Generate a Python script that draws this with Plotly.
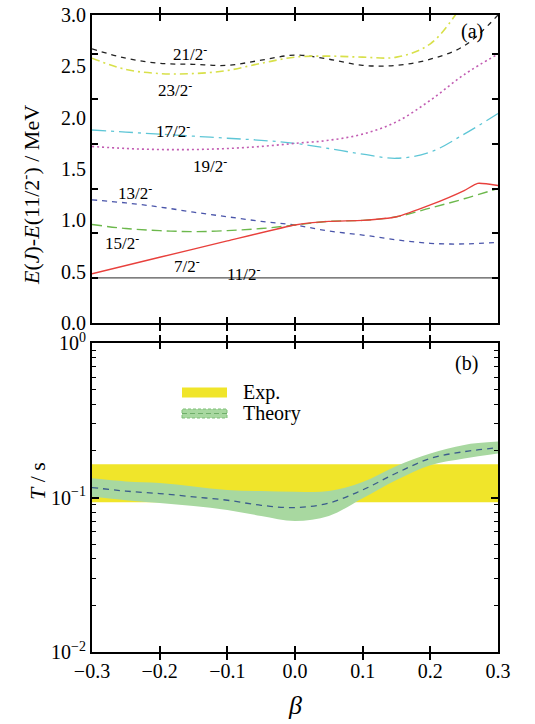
import plotly.graph_objects as go

# ---------------- data ----------------
beta = [-0.30, -0.25, -0.20, -0.15, -0.10, -0.05, 0.00, 0.05, 0.10, 0.15, 0.20, 0.25, 0.30]

e_21_2 = [2.67, 2.58, 2.53, 2.52, 2.51, 2.56, 2.61, 2.57, 2.51, 2.51, 2.57, 2.70, 3.00]
e_23_2 = [2.58, 2.47, 2.43, 2.43, 2.46, 2.53, 2.59, 2.60, 2.59, 2.59, 2.72, 3.12, 3.60]
e_17_2 = [1.88, 1.86, 1.84, 1.82, 1.80, 1.78, 1.75, 1.70, 1.645, 1.605, 1.665, 1.84, 2.04]
e_19_2 = [1.72, 1.70, 1.69, 1.69, 1.70, 1.72, 1.75, 1.78, 1.84, 1.96, 2.17, 2.42, 2.62]
e_13_2 = [1.20, 1.17, 1.13, 1.08, 1.035, 0.99, 0.954, 0.896, 0.857, 0.81, 0.776, 0.77, 0.786]
e_15_2 = [0.96, 0.92, 0.90, 0.89, 0.90, 0.92, 0.955, 0.99, 1.00, 1.035, 1.12, 1.21, 1.31]
beta_7_2 = [-0.30, -0.20, -0.10, 0.00, 0.05, 0.10, 0.15, 0.20, 0.25, 0.27, 0.30]
e_7_2 = [0.48, 0.64, 0.80, 0.955, 0.99, 1.00, 1.035, 1.15, 1.29, 1.36, 1.34]
e_11_2 = [0.44] * len(beta)

level_names = ["21/2", "23/2", "17/2", "19/2", "13/2", "15/2", "7/2", "11/2"]
label_beta = [-0.155, -0.177, -0.18, -0.126, -0.236, -0.256, -0.16, -0.075]
label_e = [2.63, 2.28, 1.88, 1.54, 1.275, 0.79, 0.565, 0.49]

t_center = [0.116, 0.110, 0.106, 0.101, 0.096, 0.089, 0.086, 0.092, 0.112, 0.144, 0.179, 0.198, 0.210]
t_upper = [0.133, 0.127, 0.124, 0.118, 0.112, 0.110, 0.109, 0.110, 0.126, 0.160, 0.193, 0.219, 0.230]
t_lower = [0.101, 0.096, 0.092, 0.088, 0.083, 0.076, 0.0705, 0.076, 0.099, 0.130, 0.162, 0.179, 0.193]
exp_low, exp_high = 0.093, 0.164

x_ticks = [-0.3, -0.2, -0.1, 0.0, 0.1, 0.2, 0.3]
e_ticks = [0.0, 0.5, 1.0, 1.5, 2.0, 2.5, 3.0]
e_ticktext = ["0.0", "0.5", "1.0", "1.5", "2.0", "2.5", "3.0"]
e_side_ticks = [0.436, 0.872, 1.308, 1.744, 2.18, 2.616]
t_ticks = [0.01, 0.1, 1.0]
t_ticktext = ["10<sup>\u22122</sup>", "10<sup>\u22121</sup>", "10<sup>0</sup>"]
t_minor = [m * d for d in (0.01, 0.1) for m in range(2, 10)]

# ---------------- geometry (page px; body margin removed by post_script) ----------------
W, H = 535, 724
L, R, T, B = 92, 535 - 498, 15, 724 - 652
PW, PH = W - L - R, H - T - B

def px(xp):  # page x -> paper
    return (xp - L) / PW

def py(yp):  # page y -> paper
    return (H - B - yp) / PH

FONT = "Liberation Serif"
fig = go.Figure()

def level(x, y, color, dash, width=1.3, smooth=1.0):
    fig.add_trace(go.Scatter(x=x, y=y, mode="lines", xaxis="x", yaxis="y",
                             line=dict(color=color, dash=dash, width=width,
                                       shape="spline", smoothing=smooth),
                             showlegend=False, hoverinfo="skip"))

level(beta, e_11_2, "#555555", "solid", 1.4)
level(beta, e_21_2, "#222222", "5px,5px")
level(beta, e_23_2, "#d8e04a", "8px,4px,2px,4px", 1.6)
level(beta, e_17_2, "#5ec6d6", "14px,5px,3px,5px")
level(beta, e_19_2, "#c25cb2", "2px,3px", 1.6)
level(beta, e_13_2, "#4a55aa", "5px,5px")
level(beta, e_15_2, "#6cb84c", "10px,5px", 1.4)
level(beta_7_2, e_7_2, "#e8403c", "solid", 1.4, 0.5)

# bottom panel: exp band
fig.add_trace(go.Scatter(x=[beta[0], beta[-1]], y=[exp_low, exp_low], mode="lines",
                         xaxis="x2", yaxis="y2", line=dict(width=0, color="#f0e52a"),
                         showlegend=False, hoverinfo="skip"))
fig.add_trace(go.Scatter(x=[beta[0], beta[-1]], y=[exp_high, exp_high], mode="lines",
                         xaxis="x2", yaxis="y2", line=dict(width=0, color="#f0e52a"),
                         fill="tonexty", fillcolor="#f0e52a",
                         showlegend=False, hoverinfo="skip"))
# theory band
fig.add_trace(go.Scatter(x=beta, y=t_lower, mode="lines", xaxis="x2", yaxis="y2",
                         line=dict(width=0, color="#a8d8a0", shape="spline"),
                         showlegend=False, hoverinfo="skip"))
fig.add_trace(go.Scatter(x=beta, y=t_upper, mode="lines", xaxis="x2", yaxis="y2",
                         line=dict(width=0, color="#a8d8a0", shape="spline"),
                         fill="tonexty", fillcolor="#a8d8a0",
                         showlegend=False, hoverinfo="skip"))
fig.add_trace(go.Scatter(x=beta, y=t_center, mode="lines", xaxis="x2", yaxis="y2",
                         line=dict(width=1.3, color="#3b5c8c", dash="6px,5px", shape="spline"),
                         showlegend=False, hoverinfo="skip"))

axis_common = dict(showline=True, linecolor="black", linewidth=2, mirror="allticks",
                   ticks="inside", ticklen=6, tickwidth=1.5, tickcolor="black",
                   showgrid=False, zeroline=False, automargin=False,
                   ticklabeloverflow="allow",
                   tickfont=dict(family=FONT, size=20, color="black"))

top_dom = [(652 - 323) / (652 - 15), 1.0]
bot_dom = [0.0, (652 - 343) / (652 - 15)]
E_RANGE = [0, 3.0005]

fig.update_layout(
    width=W, height=H,
    margin=dict(l=L, r=R, t=T, b=B, autoexpand=False),
    paper_bgcolor="white", plot_bgcolor="white",
    showlegend=False,
    xaxis=dict(axis_common, domain=[0, 1], anchor="y", range=[-0.3, 0.3],
               tickvals=x_ticks, showticklabels=False),
    yaxis=dict(axis_common, domain=top_dom, anchor="x", range=E_RANGE,
               tickvals=e_ticks, ticktext=e_ticktext, ticks=""),
    yaxis3=dict(axis_common, domain=top_dom, anchor="x", overlaying="y", side="left",
                range=E_RANGE, tickvals=e_side_ticks, showticklabels=False,
                mirror="ticks"),
    xaxis2=dict(axis_common, domain=[0, 1], anchor="y2", range=[-0.3, 0.3],
                tickvals=x_ticks, tickformat=".1f"),
    yaxis2=dict(axis_common, domain=bot_dom, anchor="x2", type="log", range=[-2, 0],
                tickvals=t_ticks, ticktext=t_ticktext, ticklen=7),
    yaxis4=dict(axis_common, domain=bot_dom, anchor="x2", overlaying="y2", side="left",
                type="log", range=[-2, 0], tickvals=t_minor, showticklabels=False,
                ticklen=4, tickwidth=1.2, mirror="ticks"),
)
fig.add_trace(go.Scatter(x=[None], y=[None], xaxis="x", yaxis="y3", showlegend=False))
fig.add_trace(go.Scatter(x=[None], y=[None], xaxis="x2", yaxis="y4", showlegend=False))

def txt(x, y, text, size=20, **kw):
    d = dict(x=x, y=y, xref="paper", yref="paper", text=text, showarrow=False,
             xanchor="center", yanchor="middle",
             font=dict(family=FONT, size=size, color="black"))
    d.update(kw)
    return d

ann = []
for name, bx, be in zip(level_names, label_beta, label_e):
    ann.append(dict(x=bx, y=be, xref="x", yref="y", text=name + "<sup>-</sup>",
                    showarrow=False, xanchor="center", yanchor="middle",
                    font=dict(family=FONT, size=17, color="black")))
ann.append(txt(px(472), py(32), "(a)"))
ann.append(txt(px(466), py(363), "(b)"))
ann.append(txt(px(30), py(195), "<i>E</i>(<i>J</i>)-<i>E</i>(11/2<sup>-</sup>) / MeV",
               22, textangle=-90))
ann.append(txt(px(37), py(481), "<i>T</i> / s", 22, textangle=-90))
ann.append(txt(px(295), py(706), "<i>β</i>", 26))
ann.append(txt(px(241), py(392), "Exp.", xanchor="left"))
ann.append(txt(px(241), py(413), "Theory", xanchor="left"))
fig.update_layout(annotations=ann)

x0k, x1k = px(182), px(227)
shapes = [
    dict(type="rect", xref="paper", yref="paper", x0=x0k, x1=x1k,
         y0=py(397.5), y1=py(387.5), fillcolor="#f0e52a", line=dict(width=0)),
    dict(type="rect", xref="paper", yref="paper", x0=x0k, x1=x1k,
         y0=py(418), y1=py(409), fillcolor="#a8d8a0",
         line=dict(width=1, color="#7fbf78", dash="3px,2px")),
    dict(type="line", xref="paper", yref="paper", x0=x0k, x1=x1k,
         y0=py(413.5), y1=py(413.5), line=dict(width=1.2, color="#6fae6a", dash="5px,3px")),
]
fig.update_layout(shapes=shapes)

fig.write_html("out.html", config={"displayModeBar": False},
               post_script="document.body.style.margin='0px';document.body.style.overflow='hidden';")
